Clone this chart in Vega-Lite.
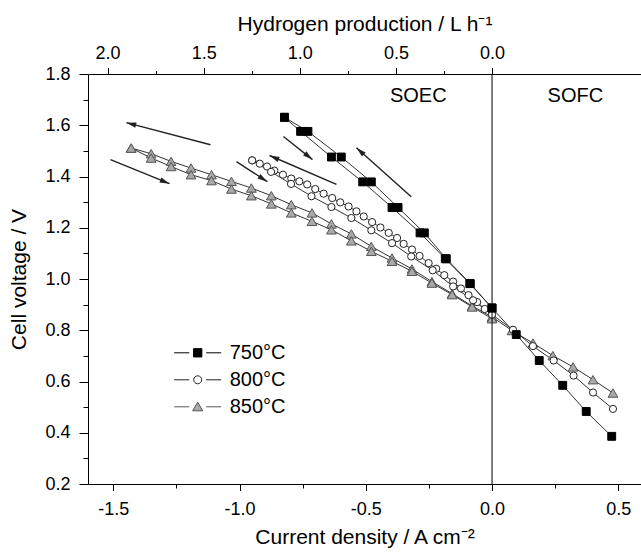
{
"$schema": "https://vega.github.io/schema/vega-lite/v6.json",
"width": 553, "height": 410,
"autosize": {"type": "none"},
"padding": {"left": 88, "top": 74, "right": 0, "bottom": 70},
"config": {
  "font": "Liberation Sans",
  "view": {"stroke": null},
  "axis": {"grid": false, "domainColor": "black", "tickColor": "black", "labelColor": "black", "titleColor": "black", "labelFontSize": 18, "titleFontSize": 21, "titleFontWeight": "normal", "domainWidth": 1, "tickWidth": 1},
  "legend": {"orient": "none", "legendX": 85.7, "legendY": 266.3, "symbolSize": 2209, "symbolStrokeWidth": 1, "symbolOpacity": 1, "labelFontSize": 20, "labelColor": "black", "labelOffset": 8, "clipHeight": 25, "rowPadding": 2, "padding": 0}
},
"datasets": {
  "curves": [
    {"t":"750°C","b":"750u","j":0.474,"V":0.386},{"t":"750°C","b":"750u","j":0.373,"V":0.483},{"t":"750°C","b":"750u","j":0.280,"V":0.585},{"t":"750°C","b":"750u","j":0.187,"V":0.682},{"t":"750°C","b":"750u","j":0.096,"V":0.783},{"t":"750°C","b":"750u","j":0,"V":0.887},{"t":"750°C","b":"750u","j":-0.086,"V":0.982},{"t":"750°C","b":"750u","j":-0.181,"V":1.079},{"t":"750°C","b":"750u","j":-0.268,"V":1.180},{"t":"750°C","b":"750u","j":-0.372,"V":1.279},{"t":"750°C","b":"750u","j":-0.478,"V":1.379},{"t":"750°C","b":"750u","j":-0.597,"V":1.476},{"t":"750°C","b":"750u","j":-0.729,"V":1.576},{"t":"750°C","b":"750u","j":-0.822,"V":1.631},
    {"t":"750°C","b":"750d","j":-0.758,"V":1.576},{"t":"750°C","b":"750d","j":-0.636,"V":1.476},{"t":"750°C","b":"750d","j":-0.512,"V":1.379},{"t":"750°C","b":"750d","j":-0.396,"V":1.279},{"t":"750°C","b":"750d","j":-0.285,"V":1.180},{"t":"750°C","b":"750d","j":-0.185,"V":1.079},{"t":"750°C","b":"750d","j":-0.088,"V":0.982},{"t":"750°C","b":"750d","j":0,"V":0.887},{"t":"750°C","b":"750d","j":-0.822,"V":1.631},
    {"t":"800°C","b":"800a","j":0.479,"V":0.493},{"t":"800°C","b":"800a","j":0.400,"V":0.557},{"t":"800°C","b":"800a","j":0.323,"V":0.623},{"t":"800°C","b":"800a","j":0.244,"V":0.682},{"t":"800°C","b":"800a","j":0.162,"V":0.738},{"t":"800°C","b":"800a","j":0.083,"V":0.802},{"t":"800°C","b":"800a","j":0,"V":0.861},{"t":"800°C","b":"800a","j":-0.029,"V":0.883},{"t":"800°C","b":"800a","j":-0.059,"V":0.910},{"t":"800°C","b":"800a","j":-0.093,"V":0.937},{"t":"800°C","b":"800a","j":-0.123,"V":0.963},{"t":"800°C","b":"800a","j":-0.154,"V":0.990},{"t":"800°C","b":"800a","j":-0.189,"V":1.015},{"t":"800°C","b":"800a","j":-0.221,"V":1.040},{"t":"800°C","b":"800a","j":-0.251,"V":1.062},{"t":"800°C","b":"800a","j":-0.287,"V":1.090},{"t":"800°C","b":"800a","j":-0.317,"V":1.115},{"t":"800°C","b":"800a","j":-0.350,"V":1.137},{"t":"800°C","b":"800a","j":-0.376,"V":1.160},{"t":"800°C","b":"800a","j":-0.409,"V":1.180},{"t":"800°C","b":"800a","j":-0.442,"V":1.201},{"t":"800°C","b":"800a","j":-0.475,"V":1.222},{"t":"800°C","b":"800a","j":-0.508,"V":1.244},{"t":"800°C","b":"800a","j":-0.537,"V":1.264},{"t":"800°C","b":"800a","j":-0.568,"V":1.283},{"t":"800°C","b":"800a","j":-0.601,"V":1.299},{"t":"800°C","b":"800a","j":-0.633,"V":1.316},{"t":"800°C","b":"800a","j":-0.667,"V":1.333},{"t":"800°C","b":"800a","j":-0.700,"V":1.351},{"t":"800°C","b":"800a","j":-0.732,"V":1.369},{"t":"800°C","b":"800a","j":-0.763,"V":1.381},{"t":"800°C","b":"800a","j":-0.795,"V":1.392},{"t":"800°C","b":"800a","j":-0.828,"V":1.407},{"t":"800°C","b":"800a","j":-0.862,"V":1.423},{"t":"800°C","b":"800a","j":-0.891,"V":1.439},{"t":"800°C","b":"800a","j":-0.920,"V":1.450},{"t":"800°C","b":"800a","j":-0.950,"V":1.463},
    {"t":"800°C","b":"800b","j":-0.875,"V":1.418},{"t":"800°C","b":"800b","j":-0.796,"V":1.371},{"t":"800°C","b":"800b","j":-0.715,"V":1.323},{"t":"800°C","b":"800b","j":-0.636,"V":1.281},{"t":"800°C","b":"800b","j":-0.557,"V":1.238},{"t":"800°C","b":"800b","j":-0.478,"V":1.190},{"t":"800°C","b":"800b","j":-0.396,"V":1.140},{"t":"800°C","b":"800b","j":-0.320,"V":1.088},{"t":"800°C","b":"800b","j":-0.235,"V":1.034},{"t":"800°C","b":"800b","j":-0.154,"V":0.971},{"t":"800°C","b":"800b","j":-0.075,"V":0.917},{"t":"800°C","b":"800b","j":0,"V":0.861},{"t":"800°C","b":"800b","j":-0.950,"V":1.463},
    {"t":"850°C","b":"850a","j":0.479,"V":0.555},{"t":"850°C","b":"850a","j":0.400,"V":0.607},{"t":"850°C","b":"850a","j":0.321,"V":0.657},{"t":"850°C","b":"850a","j":0.241,"V":0.701},{"t":"850°C","b":"850a","j":0.162,"V":0.750},{"t":"850°C","b":"850a","j":0.079,"V":0.799},{"t":"850°C","b":"850a","j":0,"V":0.852},{"t":"850°C","b":"850a","j":-0.079,"V":0.895},{"t":"850°C","b":"850a","j":-0.158,"V":0.943},{"t":"850°C","b":"850a","j":-0.238,"V":0.990},{"t":"850°C","b":"850a","j":-0.317,"V":1.039},{"t":"850°C","b":"850a","j":-0.396,"V":1.082},{"t":"850°C","b":"850a","j":-0.478,"V":1.127},{"t":"850°C","b":"850a","j":-0.557,"V":1.176},{"t":"850°C","b":"850a","j":-0.636,"V":1.215},{"t":"850°C","b":"850a","j":-0.713,"V":1.258},{"t":"850°C","b":"850a","j":-0.795,"V":1.290},{"t":"850°C","b":"850a","j":-0.874,"V":1.325},{"t":"850°C","b":"850a","j":-0.953,"V":1.355},{"t":"850°C","b":"850a","j":-1.032,"V":1.381},{"t":"850°C","b":"850a","j":-1.111,"V":1.407},{"t":"850°C","b":"850a","j":-1.192,"V":1.433},{"t":"850°C","b":"850a","j":-1.271,"V":1.459},{"t":"850°C","b":"850a","j":-1.350,"V":1.489},{"t":"850°C","b":"850a","j":-1.429,"V":1.511},
    {"t":"850°C","b":"850b","j":-1.350,"V":1.472},{"t":"850°C","b":"850b","j":-1.271,"V":1.439},{"t":"850°C","b":"850b","j":-1.192,"V":1.407},{"t":"850°C","b":"850b","j":-1.111,"V":1.384},{"t":"850°C","b":"850b","j":-1.032,"V":1.351},{"t":"850°C","b":"850b","j":-0.953,"V":1.325},{"t":"850°C","b":"850b","j":-0.874,"V":1.293},{"t":"850°C","b":"850b","j":-0.795,"V":1.258},{"t":"850°C","b":"850b","j":-0.713,"V":1.225},{"t":"850°C","b":"850b","j":-0.636,"V":1.192},{"t":"850°C","b":"850b","j":-0.557,"V":1.149},{"t":"850°C","b":"850b","j":-0.478,"V":1.108},{"t":"850°C","b":"850b","j":-0.396,"V":1.069},{"t":"850°C","b":"850b","j":-0.317,"V":1.030},{"t":"850°C","b":"850b","j":-0.238,"V":0.984},{"t":"850°C","b":"850b","j":-0.158,"V":0.939},{"t":"850°C","b":"850b","j":-0.079,"V":0.891},{"t":"850°C","b":"850b","j":0,"V":0.845},{"t":"850°C","b":"850b","j":-1.429,"V":1.511}
  ],
  "arrows": [
    {"j":-1.448,"V":1.610,"j0":-1.115,"V0":1.524},
    {"j":-1.277,"V":1.372,"j0":-1.511,"V0":1.466},
    {"j":-0.890,"V":1.380,"j0":-1.012,"V0":1.458},
    {"j":-0.881,"V":1.482,"j0":-0.616,"V0":1.369},
    {"j":-0.711,"V":1.466,"j0":-0.826,"V0":1.556},
    {"j":-0.537,"V":1.512,"j0":-0.320,"V0":1.321}
  ],
  "labels": [
    {"region": "SOEC", "j": -0.292, "V": 1.715},
    {"region": "SOFC", "j": 0.33, "V": 1.715}
  ]
},
"layer": [
  {
    "data": {"name": "curves"},
    "encoding": {
      "x": {"field": "j", "type": "quantitative",
        "scale": {"domain": [-1.6, 0.59], "nice": false, "zero": false},
        "axis": {"title": "Current density / A cm⁻²", "values": [-1.5,-1.25,-1,-0.75,-0.5,-0.25,0,0.25,0.5],
          "labelExpr": "abs(datum.value*2-round(datum.value*2))<0.001 ? replace(format(datum.value,'.1f'),'−','-') : ''",
          "tickSize": {"condition": {"test": "abs(datum.value*2-round(datum.value*2))<0.001", "value": 6.5}, "value": 4},
          "labelPadding": 10, "titlePadding": 8}},
      "y": {"field": "V", "type": "quantitative",
        "scale": {"domain": [0.2, 1.8], "nice": false, "zero": false},
        "axis": {"title": "Cell voltage / V", "values": [0.2,0.3,0.4,0.5,0.6,0.7,0.8,0.9,1.0,1.1,1.2,1.3,1.4,1.5,1.6,1.7,1.8],
          "labelExpr": "abs(datum.value*5-round(datum.value*5))<0.001 ? format(datum.value,'.1f') : ''",
          "tickSize": {"condition": {"test": "abs(datum.value*5-round(datum.value*5))<0.001", "value": 9}, "value": 5},
          "labelPadding": 9, "titlePadding": 15}}
    },
    "layer": [
      {"mark": {"type": "line", "stroke": "#333333", "strokeWidth": 1}, "encoding": {"detail": {"field": "b"}}},
      {"transform": [{"filter": "datum.t === '850°C'"}], "mark": {"type": "point", "shape": "triangle-up", "filled": true, "fill": "#a9a9a9", "stroke": "#555555", "strokeWidth": 1, "size": 95, "opacity": 1}},
      {"transform": [{"filter": "datum.t === '800°C'"}], "mark": {"type": "point", "shape": "circle", "filled": true, "fill": "white", "stroke": "#222222", "strokeWidth": 1, "size": 52, "opacity": 1}},
      {"transform": [{"filter": "datum.t === '750°C'"}], "mark": {"type": "point", "shape": "square", "filled": true, "fill": "black", "stroke": "black", "strokeWidth": 1, "size": 62, "opacity": 1}},
      {"data": {"name": "arrows"}, "mark": {"type": "rule", "color": "#222222", "strokeWidth": 1.4}, "encoding": {"x2": {"field": "j0"}, "y2": {"field": "V0"}}},
      {"data": {"name": "arrows"}, "transform": [{"calculate": "atan2((datum.j-datum.j0)*252.6, (datum.V-datum.V0)*256.25)*180/PI", "as": "ang"}],
        "mark": {"type": "point", "shape": "M0,0L0.6,2.2L-0.6,2.2Z", "filled": true, "fill": "#222222", "strokeWidth": 0, "size": 81, "opacity": 1},
        "encoding": {"angle": {"field": "ang", "type": "quantitative", "scale": null}}},
      {"data": {"name": "labels"}, "mark": {"type": "text", "fontSize": 20, "color": "black"}, "encoding": {"text": {"field": "region"}}},
      {"transform": [{"filter": "datum.V > 100"}], "mark": {"type": "point", "filled": true, "opacity": 1},
        "encoding": {
          "shape": {"field": "t", "type": "nominal", "title": null, "scale": {"domain": ["750°C","800°C","850°C"], "range": ["M-1,0H-0.36M0.36,0H1M-0.177,-0.177H0.177V0.177H-0.177Z", "M-1,0H-0.36M0.36,0H1M0.17,0A0.17,0.17,0,1,1,-0.17,0A0.17,0.17,0,1,1,0.17,0Z", "M-1,0H-0.36M0.36,0H1M0,-0.2L0.213,0.17L-0.213,0.17Z"]}},
          "fill": {"field": "t", "type": "nominal", "title": null, "scale": {"domain": ["750°C","800°C","850°C"], "range": ["black", "white", "#a9a9a9"]}},
          "stroke": {"field": "t", "type": "nominal", "title": null, "scale": {"domain": ["750°C","800°C","850°C"], "range": ["black", "#222222", "#555555"]}}
        }}
    ]
  },
  {
    "data": {"values": [{"j": 0}]},
    "mark": {"type": "rule", "color": "black", "strokeWidth": 1},
    "encoding": {
      "x": {"field": "j", "type": "quantitative",
        "scale": {"domain": [-0.775, 2.102], "reverse": true, "nice": false, "zero": false},
        "axis": {"orient": "top", "title": "Hydrogen production / L h⁻¹", "values": [0,0.25,0.5,0.75,1,1.25,1.5,1.75,2],
          "labelExpr": "abs(datum.value*2-round(datum.value*2))<0.001 ? format(datum.value,'.1f') : ''",
          "tickSize": {"condition": {"test": "abs(datum.value*2-round(datum.value*2))<0.001", "value": 6.5}, "value": 3.5},
          "labelPadding": 5, "titlePadding": 10}}
    }
  }
],
"resolve": {"scale": {"x": "independent"}, "axis": {"x": "independent"}}
}
